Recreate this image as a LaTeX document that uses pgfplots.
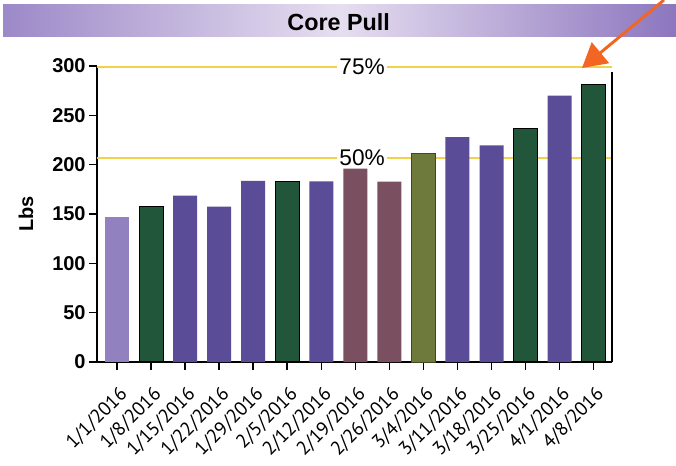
\documentclass[border=0pt]{standalone}
\usepackage{pgfplots}
\pgfplotsset{compat=1.18}
\usepackage{fontspec}
\setmainfont{Liberation Sans}
\newfontfamily\ptsans{PT Sans}
\usetikzlibrary{arrows.meta}
\definecolor{lightpurple}{HTML}{9181BE}
\definecolor{purp}{HTML}{5A4C97}
\definecolor{dgreen}{HTML}{22563A}
\definecolor{mauve}{HTML}{7A5060}
\definecolor{olive}{HTML}{6D7A3C}
\definecolor{yel}{HTML}{F2D24A}
\definecolor{orng}{HTML}{F26522}
\definecolor{tpL}{HTML}{9C89C8}
\definecolor{tpM}{HTML}{E6DEF0}
\definecolor{tpR}{HTML}{8C76BE}
\begin{document}
\begin{tikzpicture}
\useasboundingbox (0,0) rectangle (507pt,348.75pt);
\shade[left color=tpL, right color=tpR, middle color=tpM] (2.25pt,321pt) rectangle (507pt,345pt);
\node[font=\bfseries\fontsize{17.5}{17.5}\selectfont, anchor=base, inner sep=0pt] at (254pt,325.5pt) {Core Pull};
\begin{axis}[
  at={(72.75pt,77.25pt)}, anchor=south west,
  scale only axis, width=386.25pt, height=222pt,
  xmin=-0.59, xmax=14.54, ymin=0, ymax=300,
  axis x line*=bottom, axis y line*=left,
  axis line style={line width=1.2pt, black},
  ytick={0,50,...,300},
  xtick={0,...,14},
  xticklabels={1/1/2016,1/8/2016,1/15/2016,1/22/2016,1/29/2016,2/5/2016,2/12/2016,2/19/2016,2/26/2016,3/4/2016,3/11/2016,3/18/2016,3/25/2016,4/1/2016,4/8/2016},
  tick align=outside,
  major tick length=6pt,
  tick style={line width=1.2pt, black},
  /pgf/number format/assume math mode=true,
  yticklabel style={font=\bfseries\fontsize{15}{15}\selectfont, xshift=1pt},
  xticklabel style={font=\ptsans\fontsize{14.5}{14.5}\selectfont, rotate=45, anchor=east, xshift=-4pt, yshift=-15pt},
  ylabel={Lbs},
  ylabel style={font=\bfseries\fontsize{15}{15}\selectfont, at={(axis description cs:-0.138,0.5)}, anchor=center},
  ybar, bar width=18pt, bar shift=0pt,
  clip=false,
]
\addplot[ybar=false, sharp plot, yel, line width=1.5pt] coordinates {(-0.59,299) (14.54,299)};
\addplot[ybar=false, sharp plot, yel, line width=1.5pt] coordinates {(-0.59,207) (14.54,207)};
\node[fill=white, inner sep=1.5pt, font=\fontsize{17}{17}\selectfont] at (axis cs:7.2,299) {75\%};
\node[fill=white, inner sep=1.5pt, font=\fontsize{17}{17}\selectfont] at (axis cs:7.2,207) {50\%};
\addplot[fill=lightpurple, draw=none] coordinates {(0,147)};
\addplot[fill=dgreen, draw=black, line width=0.8pt] coordinates {(1,158) (5,183.4) (12,236.4) (14,281.7)};
\addplot[fill=purp, draw=none] coordinates {(2,168.5) (3,157.5) (4,183.7) (6,183) (10,228) (11,219.5) (13,270)};
\addplot[fill=mauve, draw=none] coordinates {(7,196) (8,182.7)};
\addplot[fill=olive, draw=olive!60!black, line width=0.6pt] coordinates {(9,211.5)};
\draw[line width=1.2pt] (rel axis cs:1,0) -- (rel axis cs:1,0.98);
\end{axis}
\draw[orng, line width=2.2pt, -{Triangle[length=18pt,width=20pt]}] (498pt,348.75pt) -- (436.5pt,297.75pt);
\end{tikzpicture}
\end{document}
